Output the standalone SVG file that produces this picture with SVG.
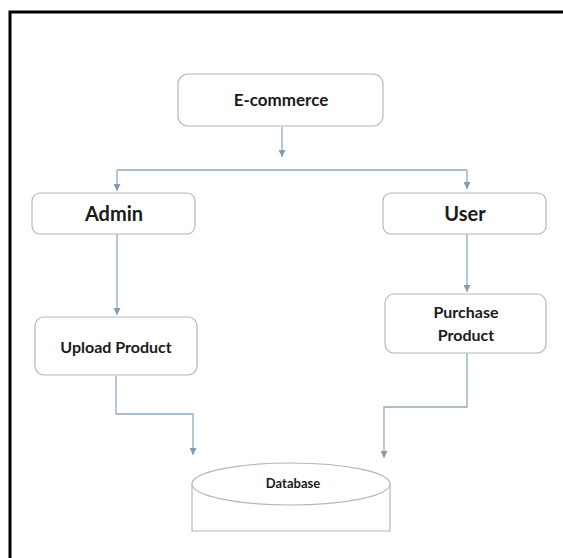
<svg xmlns="http://www.w3.org/2000/svg" width="563" height="558" viewBox="0 0 563 558">
<defs>
<marker id="arr" viewBox="0 0 8 8" refX="8" refY="4" markerWidth="7" markerHeight="7" markerUnits="userSpaceOnUse" orient="auto">
<path d="M0,0 L8,4 L0,8 Z" fill="#7f9bb5"/>
</marker>
<style>
.box{fill:#ffffff;stroke:#b4b8b4;stroke-width:1.2}
.lbl{font-family:Lato,"Open Sans",sans-serif;font-weight:bold;fill:#1a1a1a;text-anchor:middle}
.con{fill:none;stroke:#8fa9c0;stroke-width:1.3}
</style>
</defs>
<rect width="563" height="558" fill="#ffffff"/>
<path d="M10,560 V12 H566" fill="none" stroke="#000" stroke-width="3"/>
<g id="connectors">
<path class="con" d="M282,127 V157" marker-end="url(#arr)"/>
<path class="con" d="M117,170 H467"/>
<path class="con" d="M117,170 V191" marker-end="url(#arr)"/>
<path class="con" d="M467,170 V189" marker-end="url(#arr)"/>
<path class="con" d="M117,234 V315" marker-end="url(#arr)"/>
<path class="con" d="M467,234 V292" marker-end="url(#arr)"/>
<path class="con" d="M116,376 V414 H193 V455" marker-end="url(#arr)"/>
<path class="con" d="M467,353 V407 H384 V458" marker-end="url(#arr)"/>
</g>
<g id="ecommerce">
<rect class="box" x="178" y="74" width="205" height="52" rx="10"/>
<text class="lbl" x="281" y="106" font-size="17">E-commerce</text>
</g>
<g id="admin">
<rect class="box" x="32" y="193" width="163" height="41" rx="8"/>
<text class="lbl" x="114" y="221" font-size="20">Admin</text>
</g>
<g id="user">
<rect class="box" x="383" y="193" width="163" height="41" rx="8"/>
<text class="lbl" x="465" y="221" font-size="20">User</text>
</g>
<g id="upload">
<rect class="box" x="35" y="317" width="162" height="58" rx="9"/>
<text class="lbl" x="116" y="353" font-size="16">Upload Product</text>
</g>
<g id="purchase">
<rect class="box" x="385" y="294" width="161" height="59" rx="9"/>
<text class="lbl" x="466" y="318" font-size="16">Purchase</text>
<text class="lbl" x="466" y="341" font-size="16">Product</text>
</g>
<g id="database">
<path d="M192,484 V531 H390 V484" fill="none" stroke="#b4b8b4" stroke-width="1.2"/>
<ellipse class="box" cx="291" cy="484" rx="99" ry="21"/>
<text class="lbl" x="293" y="488" font-size="13">Database</text>
</g>
</svg>
